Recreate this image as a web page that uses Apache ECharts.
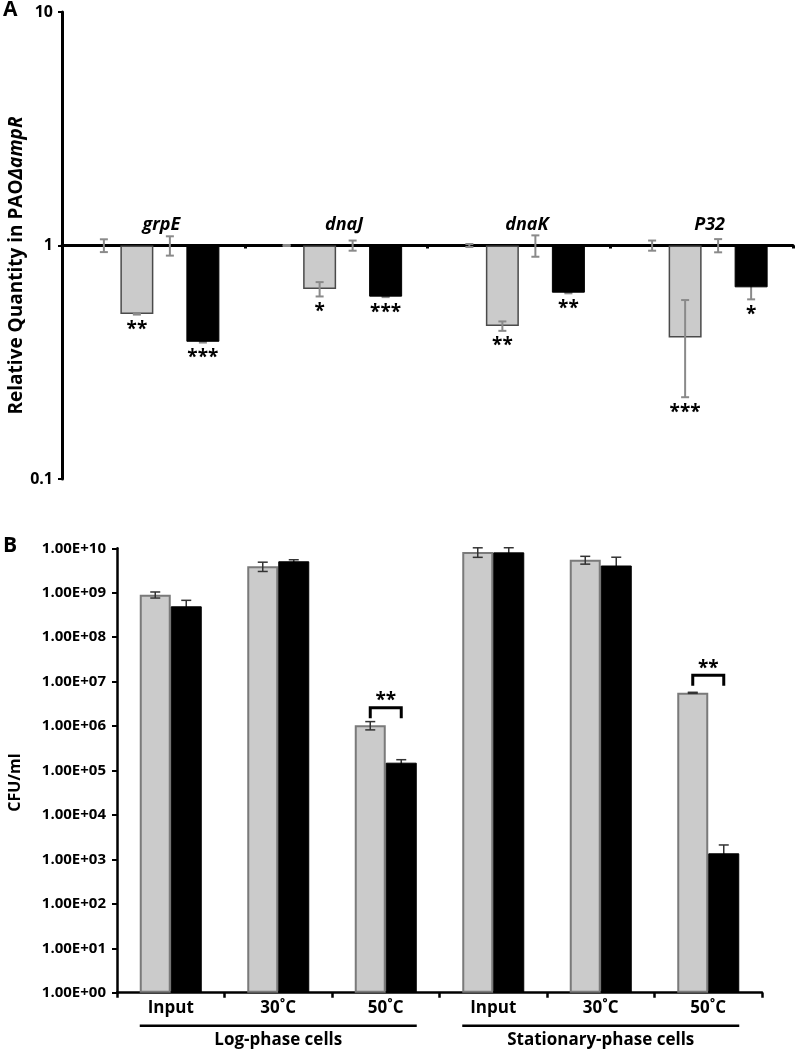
<!DOCTYPE html>
<html>
<head>
<meta charset="utf-8">
<script src="https://cdn.jsdelivr.net/npm/echarts@6/dist/echarts.min.js"></script>
<style>
html,body{margin:0;padding:0;background:#fff;}
#chart{width:796px;height:1055px;}
</style>
</head>
<body>
<div id="chart"></div>
<script>
// ---------- Panel A data ----------
const genes = ['grpE', 'dnaJ', 'dnaK', 'P32'];
const yTicksA = ['0.1', '1', '10'];
const ctrl1A = [1, 1, 1, 1];
const ctrl1A_err = [0.063, 0.005, 0.015, 0.05];
const grayA = [0.509, 0.651, 0.452, 0.404];
const grayA_err = [0.003, 0.046, 0.021, 0.18];
const ctrl2A = [1, 1, 1, 1];
const ctrl2A_err = [0.095, 0.05, 0.105, 0.065];
const blackA = [0.387, 0.604, 0.628, 0.662];
const blackA_err = [0.003, 0.003, 0.004, 0.074];
const sigGrayA = ['**', '*', '**', '***'];
const sigBlackA = ['***', '***', '**', '*'];

// ---------- Panel B data ----------
const conditions = ['Input', '30˚C', '50˚C', 'Input', '30˚C', '50˚C'];
const phases = ['Log-phase cells', 'Stationary-phase cells'];
const yTicksB = ['1.00E+00', '1.00E+01', '1.00E+02', '1.00E+03', '1.00E+04', '1.00E+05',
                 '1.00E+06', '1.00E+07', '1.00E+08', '1.00E+09', '1.00E+10'];
const grayB = [9.0e8, 3.94e9, 1.04e6, 8.26e9, 5.5e9, 5.6e6];
const grayB_err = [1.4e8, 0.93e9, 2.2e5, 2.0e9, 1.1e9, 1.5e5];
const blackB = [4.95e8, 5.1e9, 1.5e5, 8.1e9, 4.1e9, 1.37e3];
const blackB_err = [1.8e8, 0.43e9, 2.5e4, 2.2e9, 2.2e9, 7.4e2];
const sigB = ['', '', '**', '', '', '**'];

const FONT = '"Open Sans", "Noto Sans", sans-serif';
const BAR_A = 33;
const BAR_B = 31;

function logIndex(v) { return Math.round(Math.log10(v)); }

function errSeries(xi, yi, slot, nSlots, barW, values, errs, color, lw, capHalf, z) {
  return {
    type: 'custom', xAxisIndex: xi, yAxisIndex: yi, z: z, silent: true,
    data: values.map((v, i) => [i, v, errs[i]]),
    renderItem: function (params, api) {
      const c = api.value(0), v = api.value(1), e = api.value(2);
      const x = api.coord([c, v])[0] + (slot - (nSlots - 1) / 2) * barW;
      const yHi = api.coord([c, v + e])[1];
      const yLo = api.coord([c, Math.max(v - e, 1e-9)])[1];
      const st = { stroke: color, lineWidth: lw, fill: 'none' };
      return { type: 'group', children: [
        { type: 'line', shape: { x1: x, y1: yHi, x2: x, y2: yLo }, style: st },
        { type: 'line', shape: { x1: x - capHalf, y1: yHi, x2: x + capHalf, y2: yHi }, style: st },
        { type: 'line', shape: { x1: x - capHalf, y1: yLo, x2: x + capHalf, y2: yLo }, style: st }
      ]};
    }
  };
}

function starSeriesA(slot, values, errs, labels) {
  return {
    type: 'custom', xAxisIndex: 0, yAxisIndex: 0, z: 10, silent: true,
    data: values.map((v, i) => [i, v, errs[i]]),
    renderItem: function (params, api) {
      const c = api.value(0), v = api.value(1), e = api.value(2);
      const x = api.coord([c, v])[0] + (slot - 1.5) * BAR_A;
      const yBar = api.coord([c, v])[1];
      const yLo = api.coord([c, Math.max(v - e, 1e-9)])[1];
      const y = Math.max(yBar, yLo) + 15;
      return { type: 'text', x: x, y: y, style: {
        text: labels[params.dataIndex], fill: '#000',
        font: 'bold 19px ' + FONT, align: 'center', verticalAlign: 'middle'
      }};
    }
  };
}

const chart = echarts.init(document.getElementById('chart'), null, { renderer: 'canvas' });

const option = {
  backgroundColor: '#fff',
  animation: false,
  textStyle: { fontFamily: FONT },
  grid: [
    { left: 62, top: 12, width: 731, height: 467, outerBoundsMode: 'none', containLabel: false },
    { left: 117, top: 548.3, width: 645, height: 444.4, outerBoundsMode: 'none', containLabel: false }
  ],
  xAxis: [
    {
      type: 'category', gridIndex: 0, data: genes, position: 'top', offset: -233.5,
      axisLine: { onZero: false, lineStyle: { color: '#000', width: 3 } },
      axisTick: { show: true, inside: true, length: 3, lineStyle: { color: '#000', width: 3 } },
      axisLabel: { color: '#000', fontSize: 18, fontWeight: 'bold', fontStyle: 'italic',
                   fontFamily: FONT, margin: 12, padding: [0, 0, 0, 16] }
    },
    {
      type: 'category', gridIndex: 1, data: conditions, position: 'bottom',
      axisLine: { onZero: false, lineStyle: { color: '#000', width: 2.5 } },
      axisTick: { show: true, length: 5, lineStyle: { color: '#000', width: 2.5 } },
      axisLabel: { color: '#000', fontSize: 17, fontWeight: 'bold', fontFamily: FONT, margin: 7 }
    },
    {
      type: 'category', gridIndex: 1, data: phases, position: 'bottom',
      axisLine: { show: false, onZero: false }, axisTick: { show: false },
      axisLabel: { color: '#000', fontSize: 17, fontWeight: 'bold', fontFamily: FONT, margin: 39 }
    }
  ],
  yAxis: [
    {
      type: 'log', gridIndex: 0, logBase: 10, min: 0.1, max: 10, interval: 1,
      name: '{n|Relative Quantity in PAO}{i|ΔampR}', nameLocation: 'middle', nameRotate: 90, nameGap: 36,
      nameMoveOverlap: false,
      nameTextStyle: {
        padding: [0, 40, 0, 0],
        rich: {
          n: { fontSize: 19, fontWeight: 'bold', fontFamily: FONT, color: '#000' },
          i: { fontSize: 19, fontWeight: 'bold', fontStyle: 'italic', fontFamily: FONT, color: '#000' }
        }
      },
      axisLine: { show: true, lineStyle: { color: '#000', width: 3 } },
      axisTick: { show: true, length: 4, lineStyle: { color: '#000', width: 2 } },
      splitLine: { show: false },
      axisLabel: { color: '#000', fontSize: 16, fontWeight: 'bold', fontFamily: FONT, margin: 9,
                   formatter: v => yTicksA[logIndex(v) + 1] }
    },
    {
      type: 'log', gridIndex: 1, logBase: 10, min: 1, max: 1e10, interval: 1,
      name: 'CFU/ml', nameLocation: 'middle', nameRotate: 90, nameGap: 94,
      nameMoveOverlap: false,
      nameTextStyle: { fontSize: 16, fontWeight: 'bold', fontFamily: FONT, color: '#000', padding: [0, 24, 0, 0] },
      axisLine: { show: true, lineStyle: { color: '#000', width: 2.5 } },
      axisTick: { show: true, length: 5, lineStyle: { color: '#000', width: 2 } },
      splitLine: { show: false },
      axisLabel: { color: '#000', fontSize: 15, fontWeight: 'bold', fontFamily: FONT, margin: 11,
                   formatter: v => yTicksB[logIndex(v)] }
    }
  ],
  series: [
    // Panel A bars (base value 1 on the log axis)
    { type: 'bar', name: 'control (a)', xAxisIndex: 0, yAxisIndex: 0, data: ctrl1A, barWidth: BAR_A, barGap: '0%',
      itemStyle: { color: 'rgba(0,0,0,0)', borderWidth: 0 }, z: 2 },
    { type: 'bar', name: 'PAOΔampR (a)', xAxisIndex: 0, yAxisIndex: 0, data: grayA, barWidth: BAR_A, barGap: '0%',
      itemStyle: { color: '#cbcbcb', borderColor: '#4a4a4a', borderWidth: 1.5 }, z: 2 },
    { type: 'bar', name: 'control (b)', xAxisIndex: 0, yAxisIndex: 0, data: ctrl2A, barWidth: BAR_A, barGap: '0%',
      itemStyle: { color: 'rgba(0,0,0,0)', borderWidth: 0 }, z: 2 },
    { type: 'bar', name: 'PAOΔampR (b)', xAxisIndex: 0, yAxisIndex: 0, data: blackA, barWidth: BAR_A, barGap: '0%',
      itemStyle: { color: '#000', borderColor: '#000', borderWidth: 1 }, z: 2 },
    errSeries(0, 0, 0, 4, BAR_A, ctrl1A, ctrl1A_err, '#8a8a8a', 2, 4, 5),
    errSeries(0, 0, 1, 4, BAR_A, grayA, grayA_err, '#8a8a8a', 2, 4, 5),
    errSeries(0, 0, 2, 4, BAR_A, ctrl2A, ctrl2A_err, '#8a8a8a', 2, 4, 5),
    errSeries(0, 0, 3, 4, BAR_A, blackA, blackA_err, '#8a8a8a', 2, 4, 1),
    starSeriesA(1, grayA, grayA_err, sigGrayA),
    starSeriesA(3, blackA, blackA_err, sigBlackA),

    // Panel B bars
    { type: 'bar', name: 'PAO1', xAxisIndex: 1, yAxisIndex: 1, data: grayB, barWidth: BAR_B, barGap: '0%',
      itemStyle: { color: '#cbcbcb', borderColor: '#7a7a7a', borderWidth: 2 }, z: 2 },
    { type: 'bar', name: 'PAOΔampR', xAxisIndex: 1, yAxisIndex: 1, data: blackB, barWidth: BAR_B, barGap: '0%',
      itemStyle: { color: '#000', borderColor: '#000', borderWidth: 1 }, z: 2 },
    errSeries(1, 1, 0, 2, BAR_B, grayB, grayB_err, '#333', 1.5, 5, 5),
    errSeries(1, 1, 1, 2, BAR_B, blackB, blackB_err, '#333', 1.5, 5, 1),
    {
      type: 'custom', xAxisIndex: 1, yAxisIndex: 1, z: 10, silent: true,
      data: grayB.map((v, i) => [i, Math.max(v, blackB[i])]),
      renderItem: function (params, api) {
        const lab = sigB[params.dataIndex];
        if (!lab) return null;
        const c = api.value(0), v = api.value(1);
        const p = api.coord([c, v]);
        const xL = p[0] - BAR_B / 2, xR = p[0] + BAR_B / 2;
        const yTop = p[1] - 17.5, yLeg = p[1] - 7;
        const st = { stroke: '#000', lineWidth: 3, fill: 'none', lineJoin: 'miter' };
        return { type: 'group', children: [
          { type: 'polyline', shape: { points: [[xL, yLeg], [xL, yTop], [xR, yTop], [xR, yLeg]] }, style: st },
          { type: 'text', x: p[0], y: yTop - 7, style: { text: lab, fill: '#000',
            font: 'bold 19px ' + FONT, align: 'center', verticalAlign: 'middle' } }
        ]};
      }
    }
  ],
  graphic: [
    { type: 'text', left: 3, top: 0, style: { text: 'A', font: 'bold 21px ' + FONT, fill: '#000' } },
    { type: 'text', left: 3, top: 536, style: { text: 'B', font: 'bold 21px ' + FONT, fill: '#000' } }
  ]
};

chart.setOption(option);

// underlines below the condition labels, located from the axis scale
const lines = [];
[[0, 2], [3, 5]].forEach(([a, b]) => {
  const pa = chart.convertToPixel({ xAxisIndex: 1, yAxisIndex: 1 }, [a, 1]);
  const pb = chart.convertToPixel({ xAxisIndex: 1, yAxisIndex: 1 }, [b, 1]);
  lines.push({ type: 'line', shape: { x1: pa[0] - BAR_B, y1: pa[1] + 33, x2: pb[0] + BAR_B, y2: pb[1] + 33 },
               style: { stroke: '#000', lineWidth: 2.5 } });
});
chart.setOption({ graphic: option.graphic.concat(lines) });
</script>
</body>
</html>
